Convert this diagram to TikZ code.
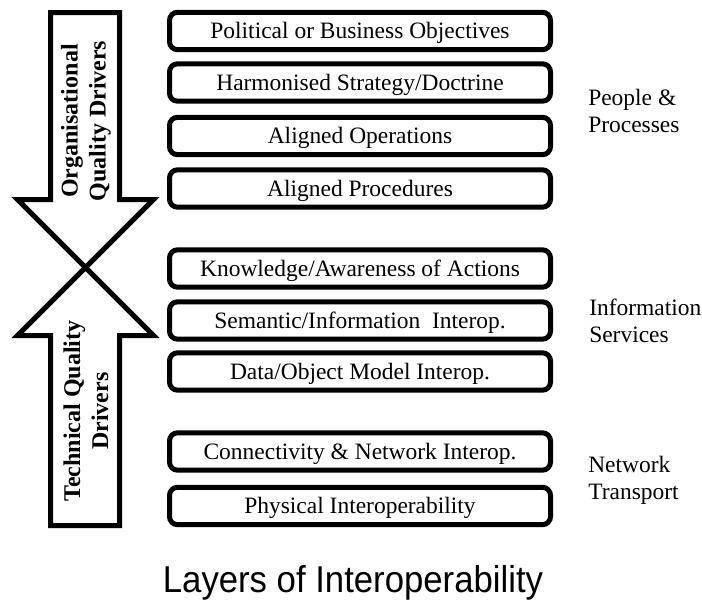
\documentclass[tikz,border=0pt]{standalone}
\usepackage{fontspec}
\setmainfont{Liberation Serif}
\newfontfamily\arialfont{Liberation Sans}
\begin{document}
\begin{tikzpicture}[x=0.75pt,y=-0.75pt,
  layer/.style={draw=black, line width=3.75pt, rounded corners=6pt, fill=white,
    minimum width=285.75pt, minimum height=28pt, inner sep=0pt,
    text height=12pt, text depth=0.35pt,
    font=\fontsize{17.6}{21}\selectfont},
  bigarrow/.style={draw=black, line width=3.75pt, miter limit=10, line join=miter},
  drvtext/.style={rotate=90, align=center, font=\bfseries\fontsize{18}{21}\selectfont},
  sidelabel/.style={anchor=west, align=left, inner sep=0pt, font=\fontsize{17.6}{20.25}\selectfont}]
\useasboundingbox[fill=white] (0,0) rectangle (702,600);
% arrows
\draw[bigarrow] (50.5,12.5) -- (119.5,12.5) -- (119.5,199.5) -- (153.5,199.5) -- (85.5,267.5)
  -- (17.5,199.5) -- (50.5,199.5) -- cycle;
\draw[bigarrow] (50.5,525.5) -- (119.5,525.5) -- (119.5,335.5) -- (153.5,335.5) -- (85.5,267.5)
  -- (17.5,335.5) -- (50.5,335.5) -- cycle;
\node[drvtext] (t1) at (86,121) {Organisational\\Quality Drivers};
\node[drvtext] (t2) at (86,411) {Technical Quality\\Drivers};
% layers
\node[layer] (b1) at (360,31) {Political or Business Objectives};
\node[layer] (b2) at (360,82.5) {Harmonised Strategy/Doctrine};
\node[layer] (b3) at (360,136) {Aligned Operations};
\node[layer] (b4) at (360,188.5) {Aligned Procedures};
\node[layer] (b5) at (360,268.5) {Knowledge/Awareness of Actions};
\node[layer] (b6) at (360,320.5) {Semantic/Information\ \ Interop.};
\node[layer] (b7) at (360,371.5) {Data/Object Model Interop.};
\node[layer] (b8) at (360,451.5) {Connectivity \& Network Interop.};
\node[layer] (b9) at (360,506) {Physical Interoperability};
% side labels
\node[sidelabel] (l1) at (588,110.5) {People \&\\Processes};
\node[sidelabel] (l2) at (589,320.5) {Information\\Services};
\node[sidelabel] (l3) at (588,480.5) {Network\\Transport};
% title
\node[anchor=base, inner sep=0pt, xscale=0.93, font=\arialfont\fontsize{28}{32}\selectfont] (title) at (353,592) {Layers of Interoperability};
\end{tikzpicture}
\end{document}
